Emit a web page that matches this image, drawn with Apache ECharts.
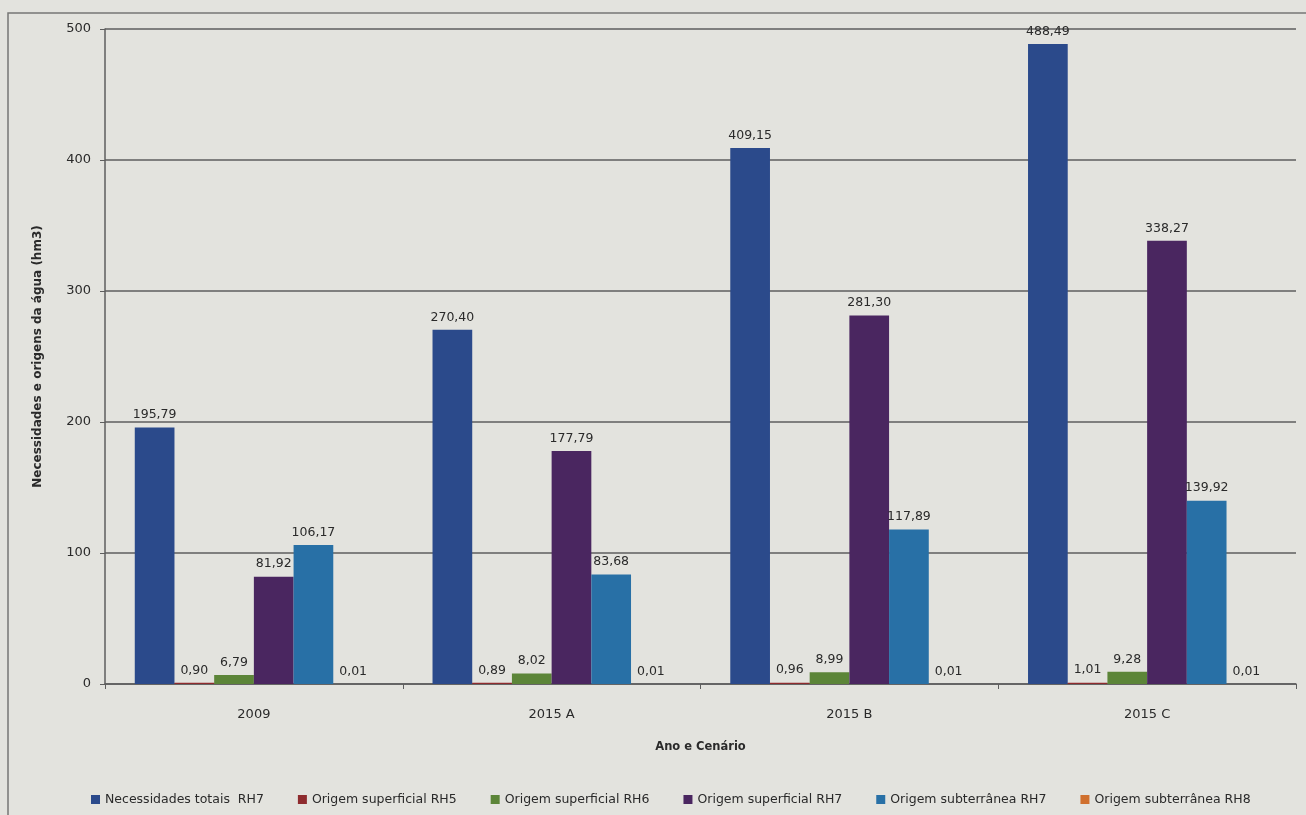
<!DOCTYPE html>
<html>
<head>
<meta charset="utf-8">
<script src="https://cdn.jsdelivr.net/npm/echarts@6/dist/echarts.min.js"></script>
<style>
  html, body { margin: 0; padding: 0; background: #e3e3de; }
  #chart { width: 1306px; height: 815px; }
</style>
</head>
<body>
<div id="chart"></div>
<script>
// Cenários de abastecimento de água (hm3)
const categories = ['2009', '2015 A', '2015 B', '2015 C'];
const seriesNames = [
  'Necessidades totais  RH7',
  'Origem superficial RH5',
  'Origem superficial RH6',
  'Origem superficial RH7',
  'Origem subterrânea RH7',
  'Origem subterrânea RH8'
];
const necessidadesRH7 = [195.79, 270.40, 409.15, 488.49];
const superficialRH5 = [0.90, 0.89, 0.96, 1.01];
const superficialRH6 = [6.79, 8.02, 8.99, 9.28];
const superficialRH7 = [81.92, 177.79, 281.30, 338.27];
const subterraneaRH7 = [106.17, 83.68, 117.89, 139.92];
const subterraneaRH8 = [0.01, 0.01, 0.01, 0.01];
const yTicks = [0, 100, 200, 300, 400, 500];

const seriesValues = [necessidadesRH7, superficialRH5, superficialRH6, superficialRH7, subterraneaRH7, subterraneaRH8];
const colors = ['#2b4a8b', '#8e2b2e', '#5c8538', '#4a2660', '#2870a6', '#d0702e'];

const font = "'DejaVu Sans', 'Liberation Sans', sans-serif";
const fmt = v => v.toFixed(2).replace('.', ',');

const chart = echarts.init(document.getElementById('chart'));
chart.setOption({
  backgroundColor: '#e3e3de',
  animation: false,
  textStyle: { fontFamily: font },
  color: colors,
  graphic: [{
    type: 'rect',
    shape: { x: 8, y: 13, width: 1320, height: 830 },
    style: { fill: 'none', stroke: '#777775', lineWidth: 1.5 },
    silent: true
  }],
  grid: { left: 105, right: 10, top: 29, bottom: 131, containLabel: false },
  legend: {
    left: 86,
    top: 788,
    itemWidth: 9,
    itemHeight: 9,
    itemGap: 34,
    icon: 'rect',
    textStyle: { fontSize: 12.5, color: '#2a2a2a', fontFamily: font },
    data: seriesNames
  },
  xAxis: {
    type: 'category',
    data: categories,
    name: 'Ano e Cenário',
    nameLocation: 'middle',
    nameGap: 57,
    nameTextStyle: { fontSize: 11.5, fontWeight: 'bold', color: '#2a2a2a' },
    axisLine: { lineStyle: { color: '#5e5e5e', width: 1.5 } },
    axisTick: { show: true, length: 5, lineStyle: { color: '#5e5e5e' } },
    axisLabel: { fontSize: 13, color: '#2a2a2a', margin: 24 }
  },
  yAxis: {
    type: 'value',
    min: yTicks[0],
    max: yTicks[yTicks.length - 1],
    interval: 100,
    name: 'Necessidades e origens da água (hm3)',
    nameLocation: 'middle',
    nameGap: 61,
    nameTextStyle: { fontSize: 12, fontWeight: 'bold', color: '#2a2a2a' },
    axisLine: { show: true, lineStyle: { color: '#5e5e5e', width: 1.5 } },
    axisTick: { show: true, length: 5, lineStyle: { color: '#5e5e5e' } },
    axisLabel: { fontSize: 13, color: '#2a2a2a', margin: 14 },
    splitLine: { lineStyle: { color: '#5e5e5e', width: 1.5 } }
  },
  series: seriesNames.map((name, i) => ({
    name,
    type: 'bar',
    data: seriesValues[i],
    barGap: '0%',
    barCategoryGap: '20%',
    label: {
      show: true,
      position: 'top',
      distance: 6,
      fontSize: 12.5,
      color: '#2a2a2a',
      formatter: p => fmt(p.value)
    }
  }))
});
</script>
</body>
</html>
